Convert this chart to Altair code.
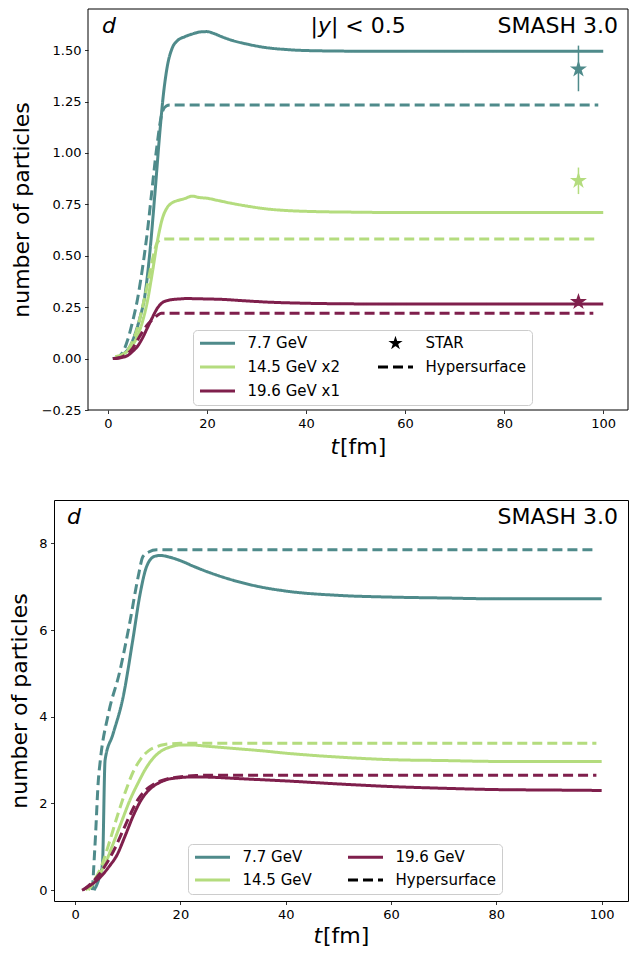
import math
import altair as alt
import pandas as pd

FONT = "DejaVu Sans"
TEAL = "#4f8b8b"
GREEN = "#b4dc7e"
MAROON = "#7f1f4c"

# ---------------- top panel: |y| < 0.5 (scaled) ----------------
top_t_77 = [1.0, 3.0, 4.5, 5.5, 6.5, 7.5, 8.5, 9.5, 10.5, 11.2, 12.0, 13.0, 14.0, 15.5, 17.0,
            18.5, 20.0, 21.5, 23.0, 25.0, 28.0, 32.0, 36.0, 40.0, 50.0, 60.0, 70.0, 80.0, 90.0, 100.0]
top_n_77 = [0.0, 0.02, 0.06, 0.12, 0.2, 0.31, 0.52, 0.8, 1.1, 1.28, 1.42, 1.51, 1.545, 1.565, 1.578,
            1.588, 1.59, 1.58, 1.565, 1.548, 1.53, 1.512, 1.503, 1.498, 1.495, 1.495, 1.494, 1.495, 1.495, 1.495]
top_t_77_h = [1.5, 3.0, 4.0, 5.0, 6.0, 7.0, 8.0, 9.0, 10.0, 11.0, 11.8, 12.5, 99.0]
top_n_77_h = [0.0, 0.03, 0.09, 0.18, 0.29, 0.44, 0.62, 0.84, 1.05, 1.2, 1.228, 1.233, 1.233]

top_t_145 = [1.5, 3.0, 4.5, 6.0, 7.0, 8.0, 9.0, 10.0, 11.0, 12.0, 13.0, 14.0, 15.5, 17.0, 18.5,
             20.0, 22.0, 25.0, 28.0, 32.0, 36.0, 40.0, 50.0, 60.0, 80.0, 100.0]
top_n_145 = [0.01, 0.02, 0.05, 0.11, 0.18, 0.28, 0.42, 0.57, 0.68, 0.735, 0.758, 0.768, 0.778, 0.79, 0.783,
             0.78, 0.77, 0.755, 0.742, 0.728, 0.72, 0.716, 0.712, 0.71, 0.71, 0.71]
top_t_145_h = [1.5, 3.0, 4.5, 6.0, 7.0, 8.0, 9.0, 10.0, 10.8, 11.5, 99.0]
top_n_145_h = [0.005, 0.02, 0.06, 0.15, 0.25, 0.36, 0.48, 0.565, 0.58, 0.582, 0.582]

top_t_196 = [1.0, 2.5, 4.0, 5.0, 6.0, 7.0, 8.0, 9.0, 10.0, 11.0, 12.0, 13.0, 14.5, 16.0, 18.0,
             20.0, 23.0, 27.0, 32.0, 40.0, 50.0, 60.0, 80.0, 100.0]
top_n_196 = [0.0, 0.004, 0.015, 0.035, 0.06, 0.1, 0.15, 0.2, 0.245, 0.272, 0.282, 0.287, 0.29, 0.292, 0.291,
             0.29, 0.288, 0.282, 0.275, 0.269, 0.266, 0.265, 0.265, 0.265]
top_t_196_h = [1.5, 3.0, 4.0, 5.0, 6.0, 7.0, 8.0, 9.0, 10.0, 10.8, 98.0]
top_n_196_h = [0.0, 0.01, 0.025, 0.05, 0.09, 0.13, 0.165, 0.19, 0.21, 0.22, 0.22]

top_labels = ["7.7 GeV", "14.5 GeV x2", "19.6 GeV x1"]
star_t = [95.0, 95.0, 95.0]
star_n = [1.407, 0.865, 0.276]
star_lo = [1.30, 0.80, 0.258]
star_hi = [1.522, 0.929, 0.294]

# ---------------- bottom panel: full rapidity ----------------
bot_t_77 = [3.6, 4.5, 5.2, 5.7, 7.2, 9.1, 11.0, 12.3, 13.6, 15.1, 16.2, 18.0, 20.0, 22.5, 25.0,
            30.0, 35.0, 40.0, 50.0, 60.0, 70.0, 80.0, 100.0]
bot_n_77 = [0.0, 0.25, 0.6, 3.0, 3.6, 4.44, 5.8, 6.8, 7.47, 7.7, 7.72, 7.68, 7.6, 7.47, 7.35,
            7.15, 7.0, 6.9, 6.8, 6.76, 6.74, 6.72, 6.72]
bot_t_77_h = [3.3, 3.9, 4.4, 4.8, 6.3, 8.5, 10.4, 12.0, 12.9, 14.0, 15.5, 99.0]
bot_n_77_h = [0.0, 1.3, 2.5, 3.0, 4.05, 5.05, 6.18, 7.24, 7.7, 7.8, 7.85, 7.85]

bot_t_145 = [2.5, 4.0, 5.7, 7.0, 8.8, 10.5, 12.0, 13.5, 15.1, 16.5, 18.3, 20.0, 22.0, 25.0, 30.0,
             35.0, 40.0, 50.0, 60.0, 70.0, 80.0, 100.0]
bot_n_145 = [0.0, 0.25, 0.6, 1.0, 1.57, 2.1, 2.48, 2.82, 3.08, 3.22, 3.31, 3.35, 3.35, 3.32, 3.27,
             3.22, 3.16, 3.07, 3.01, 2.99, 2.97, 2.97]
bot_t_145_h = [2.0, 3.5, 5.0, 6.5, 8.0, 9.5, 11.0, 12.5, 14.0, 15.5, 17.0, 18.5, 20.0, 99.0]
bot_n_145_h = [0.0, 0.2, 0.55, 1.1, 1.7, 2.25, 2.72, 3.03, 3.22, 3.31, 3.36, 3.38, 3.39, 3.39]

bot_t_196 = [1.3, 3.0, 4.8, 6.5, 8.0, 9.5, 11.1, 12.5, 14.2, 16.0, 17.4, 19.5, 21.8, 24.0, 27.0,
             30.0, 35.0, 40.0, 50.0, 60.0, 70.0, 80.0, 90.0, 100.0]
bot_n_196 = [0.0, 0.12, 0.3, 0.55, 0.82, 1.25, 1.73, 2.07, 2.33, 2.48, 2.55, 2.59, 2.61, 2.61, 2.6,
             2.58, 2.55, 2.52, 2.45, 2.39, 2.35, 2.32, 2.31, 2.3]
bot_t_196_h = [1.5, 3.0, 4.5, 6.0, 7.5, 9.0, 10.5, 12.0, 13.5, 15.0, 17.0, 19.0, 21.0, 23.0, 25.0, 99.0]
bot_n_196_h = [0.0, 0.15, 0.35, 0.62, 0.95, 1.35, 1.75, 2.1, 2.32, 2.45, 2.55, 2.6, 2.63, 2.645, 2.65, 2.65]

bot_labels = ["7.7 GeV", "14.5 GeV", "19.6 GeV"]

x_ticks = [0, 20, 40, 60, 80, 100]
x_lo, x_hi = -4.0, 105.0
top_y_ticks = [-0.25, 0.0, 0.25, 0.5, 0.75, 1.0, 1.25, 1.5]
bot_y_ticks = [0, 2, 4, 6, 8]

HYPER = "Hypersurface"
STAR = "STAR"

W = 574          # common group width
H = 401          # plot height
SHIFT = 34       # top frame starts this far right of the bottom one
PX_TOP = (W - SHIFT) / (x_hi - x_lo)
top_x_domain = [x_lo - SHIFT / PX_TOP, x_hi]
bot_x_domain = [x_lo, x_hi]


def star_path(R, r):
    pts = []
    for i in range(10):
        ang = math.pi / 2 + i * math.pi / 5
        rad = R if i % 2 == 0 else r
        pts.append((rad * math.cos(ang), -rad * math.sin(ang)))
    return "M" + "L".join(f"{x:.4f},{y:.4f}" for x, y in pts) + "Z"


STAR_SHAPE = star_path(0.15, 0.15 * 0.382)
SOLID = [1, 0]
DASH = [10, 5]


def rows(ts, ns, series, style):
    return [{"t": t, "n": n, "series": series, "style": style} for t, n in zip(ts, ns)]


def text_layer(text, x, y, size=22, italic=False, align="left"):
    return alt.Chart(pd.DataFrame({"s": [text]})).mark_text(
        font=FONT, fontSize=size, fontStyle="italic" if italic else "normal",
        align=align, baseline="alphabetic", color="black"
    ).encode(x=alt.value(x), y=alt.value(y), text="s:N")


def legend(x, y, clip, rowpad, colpad):
    return alt.Legend(
        orient="none", legendX=x, legendY=y, columns=2, title=None,
        labelFont=FONT, labelFontSize=15, labelColor="black", labelOffset=11, labelLimit=400,
        symbolSize=1225, symbolStrokeWidth=3, symbolOpacity=1, clipHeight=clip,
        rowPadding=rowpad, columnPadding=colpad, padding=5.5,
        fillColor="white", strokeColor="#cccccc", cornerRadius=4,
    )


def axes(xdom, ydom, yvals, yfmt, tpad, yoffset):
    xs = alt.Scale(domain=xdom, nice=False, zero=False)
    ys = alt.Scale(domain=ydom, nice=False, zero=False)
    xa = alt.Axis(values=x_ticks, title=None, grid=False, domain=False, labelFont=FONT,
                  labelFontSize=13, labelColor="black", labelPadding=3.5, tickSize=3.5,
                  tickColor="black", tickWidth=0.8, labelFlush=False)
    ya = alt.Axis(values=yvals, format=yfmt, title="number of particles", grid=False, domain=False,
                  labelFont=FONT, labelFontSize=13, labelColor="black", labelPadding=3.5,
                  tickSize=3.5, tickColor="black", tickWidth=0.8, titleFont=FONT,
                  titleFontSize=22, titleFontWeight="normal", titleColor="black",
                  titlePadding=tpad, labelFlush=False, offset=yoffset)
    return xs, ys, xa, ya


def xtitle(x0, x1, height, gap):
    c = (x0 + x1) / 2.0
    start = c - 27.5
    base = height + gap
    return [text_layer("t", start, base, italic=True),
            text_layer("[fm]", start + 9.5, base)]


# ---------------- build top chart ----------------
top_dom = ["7.7 GeV", "14.5 GeV x2", "19.6 GeV x1", STAR, HYPER]
top_col = [TEAL, GREEN, MAROON, "black", "black"]
top_dash = [SOLID, SOLID, SOLID, SOLID, DASH]
top_shape = ["stroke", "stroke", "stroke", STAR_SHAPE, "stroke"]

top_rows = []
for lab, ts, ns, th, nh in [
    (top_labels[0], top_t_77, top_n_77, top_t_77_h, top_n_77_h),
    (top_labels[1], top_t_145, top_n_145, top_t_145_h, top_n_145_h),
    (top_labels[2], top_t_196, top_n_196, top_t_196_h, top_n_196_h),
]:
    top_rows += rows(ts, ns, lab, lab)
    top_rows += rows(th, nh, lab, HYPER)
top_df = pd.DataFrame(top_rows)
star_df = pd.DataFrame({"t": star_t, "n": star_n, "lo": star_lo, "hi": star_hi,
                        "series": top_labels, "style": [STAR] * 3})

xs, ys, xa, ya = axes(top_x_domain, [-0.25, 1.70], top_y_ticks, ".2f", 8, -SHIFT)
leg1 = legend(SHIFT + 105, H - 8 - 72, 15, 8, 36)
c_top = alt.Scale(domain=top_dom, range=top_col)
d_top = alt.Scale(domain=top_dom, range=top_dash)
s_top = alt.Scale(domain=top_dom, range=top_shape)

top_frame = alt.Chart(pd.DataFrame({"k": [0]})).mark_rect(
    fillOpacity=0, stroke="black", strokeWidth=1
).encode(x=alt.value(SHIFT), x2=alt.value(W), y=alt.value(0), y2=alt.value(H))

top_lines = alt.Chart(top_df).mark_line(strokeWidth=3, interpolate="monotone").encode(
    x=alt.X("t:Q", scale=xs, axis=xa),
    y=alt.Y("n:Q", scale=ys, axis=ya),
    color=alt.Color("series:N", scale=c_top, legend=leg1),
    strokeDash=alt.StrokeDash("style:N", scale=d_top, legend=leg1),
)
top_err = alt.Chart(star_df).mark_rule(strokeWidth=1.5).encode(
    x="t:Q", y="lo:Q", y2="hi:Q",
    color=alt.Color("series:N", scale=c_top, legend=leg1),
)
top_stars = alt.Chart(star_df).mark_point(filled=True, size=14200, opacity=1).encode(
    x="t:Q", y="n:Q",
    color=alt.Color("series:N", scale=c_top, legend=leg1),
    shape=alt.Shape("style:N", scale=s_top, legend=leg1),
)
mid_top = SHIFT + (W - SHIFT) / 2.0
yx = mid_top - 47.5
top_layers = [top_frame, top_lines, top_err, top_stars,
              text_layer("d", SHIFT + 14, 24, italic=True),
              text_layer("SMASH 3.0", W - 10, 24, align="right"),
              text_layer("|", yx, 24),
              text_layer("y", yx + 7.4, 24, italic=True),
              text_layer("| < 0.5", yx + 20.4, 24)] + xtitle(SHIFT, W, H, 44)
top_chart = alt.layer(*top_layers).properties(
    width=W, height=H, view=alt.ViewBackground(stroke="transparent")
)

# ---------------- build bottom chart ----------------
bot_dom = ["7.7 GeV", "14.5 GeV", "19.6 GeV", HYPER]
bot_col = [TEAL, GREEN, MAROON, "black"]
bot_dash = [SOLID, SOLID, SOLID, DASH]

bot_rows = []
for lab, ts, ns, th, nh in [
    (bot_labels[0], bot_t_77, bot_n_77, bot_t_77_h, bot_n_77_h),
    (bot_labels[1], bot_t_145, bot_n_145, bot_t_145_h, bot_n_145_h),
    (bot_labels[2], bot_t_196, bot_n_196, bot_t_196_h, bot_n_196_h),
]:
    bot_rows += rows(ts, ns, lab, lab)
    bot_rows += rows(th, nh, lab, HYPER)
bot_df = pd.DataFrame(bot_rows)

xs2, ys2, xa2, ya2 = axes(bot_x_domain, [-0.25, 9.0], bot_y_ticks, "d", 7, 0)
leg2 = legend(134, H - 8 - 49, 15, 7, 34)
c_bot = alt.Scale(domain=bot_dom, range=bot_col)
d_bot = alt.Scale(domain=bot_dom, range=bot_dash)

bot_lines = alt.Chart(bot_df).mark_line(strokeWidth=3, interpolate="monotone").encode(
    x=alt.X("t:Q", scale=xs2, axis=xa2),
    y=alt.Y("n:Q", scale=ys2, axis=ya2),
    color=alt.Color("series:N", scale=c_bot, legend=leg2),
    strokeDash=alt.StrokeDash("style:N", scale=d_bot, legend=leg2),
)
bot_layers = [bot_lines,
              text_layer("d", 13, 24, italic=True),
              text_layer("SMASH 3.0", W - 10, 24, align="right")] + xtitle(0, W, H, 42)
bot_chart = alt.layer(*bot_layers).properties(width=W, height=H)

chart = alt.vconcat(top_chart, bot_chart, spacing=40).resolve_scale(
    color="independent", strokeDash="independent", shape="independent",
    x="independent", y="independent",
).properties(
    padding={"left": 0, "top": 0, "right": 1, "bottom": 0}
).configure(font=FONT).configure_view(stroke="black", strokeWidth=1)

chart.save("out.html", embed_options={"renderer": "svg", "actions": False})
